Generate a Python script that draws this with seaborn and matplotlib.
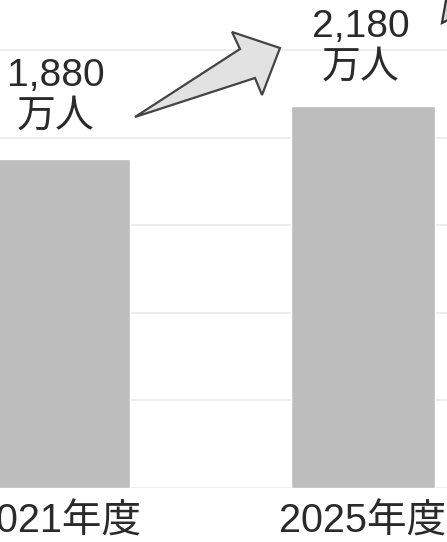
import matplotlib
matplotlib.use("Agg")
import matplotlib.pyplot as plt
import seaborn as sns
import pandas as pd
from matplotlib.patches import Polygon

# ---- data ----
categories = ["2021年度", "2025年度"]
values = [1880, 2180]
value_labels = ["1,880\n万人", "2,180\n万人"]
grid_values = [0, 500, 1000, 1500, 2000, 2500]

df = pd.DataFrame({"year": categories, "value": values})

sns.set_theme(style="white")
plt.rcParams["font.family"] = ["Liberation Sans", "Noto Sans CJK JP", "DejaVu Sans"]

W, H = 447, 542
fig = plt.figure(figsize=(W / 100, H / 100), dpi=100)
ax = fig.add_axes([0, 54.5 / H, 1, 487.5 / H])

for g in grid_values:
    ax.axhline(g, color="#ececec", lw=1.3, zorder=0)

sns.barplot(data=df, x="year", y="value", order=categories, color="#bdbdbd",
            saturation=1, width=0.472, ax=ax, zorder=2)

ax.set_xlim(-0.19, 1.275)
ax.set_ylim(0, 2786)
ax.set_xlabel("")
ax.set_ylabel("")
ax.set_yticks([])
for s in ax.spines.values():
    s.set_visible(False)
ax.tick_params(axis="x", length=0, pad=11, labelsize=28.5, labelcolor="#2a2a2a")

text_offsets = [45, 42]
for i, (v, lab) in enumerate(zip(values, value_labels)):
    ax.annotate(lab, xy=(i, v), xytext=(-1.5, text_offsets[i]), textcoords="offset points",
                ha="center", va="center", fontsize=28, color="#2a2a2a",
                linespacing=1.17, annotation_clip=False)

# decorative arrow (pixel coordinates from top-left)
def px(pts):
    return [(x / W, 1 - y / H) for x, y in pts]

arrow = px([(135, 117), (240, 49), (232, 32), (280, 48), (262, 95), (255, 78)])
fig.patches.append(Polygon(arrow, closed=True, transform=fig.transFigure,
                           facecolor="#e2e2e2", edgecolor="#444444", lw=1.6,
                           joinstyle="miter"))
corner = px([(442, 23), (446, 0), (448, 0), (448, 20)])
fig.patches.append(Polygon(corner, closed=True, transform=fig.transFigure,
                           facecolor="#dcdcdc", edgecolor="#333333", lw=1.6))

fig.savefig("out.png", dpi=100)
